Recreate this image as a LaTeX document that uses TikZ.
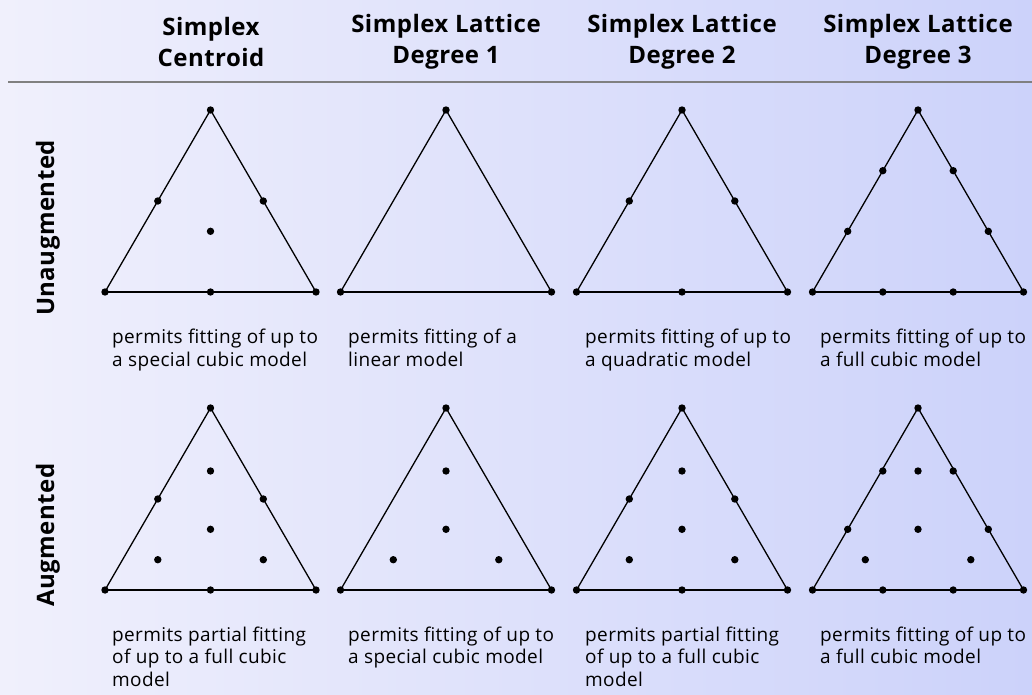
\documentclass[tikz,border=0pt]{standalone}
\usepackage{fontspec}
\setmainfont{Open Sans}
\definecolor{paleLav}{RGB}{240,240,252}
\definecolor{midBlue}{RGB}{220,228,250}
\definecolor{deepLav}{RGB}{204,210,250}
\definecolor{ruleGray}{RGB}{128,128,128}
\tikzset{
  side/.style={black, line width=1.3pt},
  basis/.style={black, line width=2.1pt},
  colhead/.style={font=\bfseries\fontsize{24}{31.5}\selectfont\addfontfeatures{LetterSpace=2}, align=center, inner sep=0pt},
  rowhead/.style={font=\bfseries\fontsize{24}{26}\selectfont\addfontfeatures{LetterSpace=2}, rotate=90, inner sep=0pt},
  caption/.style={font=\fontsize{19}{22.5}\selectfont\addfontfeatures{LetterSpace=2}, align=left, anchor=north west, inner sep=0pt},
}
\begin{document}
\begin{tikzpicture}[x=1pt,y=-1pt]
\useasboundingbox (0,0) rectangle (1032,695);
\shade[left color=paleLav, middle color=midBlue, right color=deepLav] (0,0) rectangle (1032,695);
% column and row titles
\node[colhead] (hcent) at (211,42) {Simplex\\Centroid};
\node[colhead] (hdeg1) at (446,42) {Simplex Lattice\\Degree 1};
\node[colhead] (hdeg2) at (682,42) {Simplex Lattice\\Degree 2};
\node[colhead] (hdeg3) at (918,42) {Simplex Lattice\\Degree 3};
\coordinate (ruleL) at (8,82);
\coordinate (ruleR) at (1032,82);
\draw[ruleGray, line width=1.5pt] (ruleL) -- (ruleR);
\node[rowhead] (hunaug) at (48,228) {Unaugmented};
\node[rowhead] (haug) at (48,535) {Augmented};
% unaugmented triangles
\coordinate (t1) at (210.5,110); \coordinate (l1) at (105,292); \coordinate (r1) at (316,292);
\coordinate (t2) at (446,110); \coordinate (l2) at (340.5,292); \coordinate (r2) at (551.5,292);
\coordinate (t3) at (682,110); \coordinate (l3) at (576.5,292); \coordinate (r3) at (787.5,292);
\coordinate (t4) at (918,110); \coordinate (l4) at (812.5,292); \coordinate (r4) at (1023.5,292);
\draw[side] (l1) -- (t1) -- (r1);
\draw[side] (l2) -- (t2) -- (r2);
\draw[side] (l3) -- (t3) -- (r3);
\draw[side] (l4) -- (t4) -- (r4);
\draw[basis] (l1) -- (r1);
\draw[basis] (l2) -- (r2);
\draw[basis] (l3) -- (r3);
\draw[basis] (l4) -- (r4);
% simplex centroid
\fill (t1) circle (3.7); \fill (l1) circle (3.7); \fill (r1) circle (3.7);
\fill (157.8,201) circle (3.7); \fill (263.3,201) circle (3.7);
\fill (210.5,292) circle (3.7); \fill (210.5,231.3) circle (3.7);
% degree 1
\fill (t2) circle (3.7); \fill (l2) circle (3.7); \fill (r2) circle (3.7);
% degree 2
\fill (t3) circle (3.7); \fill (l3) circle (3.7); \fill (r3) circle (3.7);
\fill (629.3,201) circle (3.7); \fill (734.8,201) circle (3.7);
\fill (682,292) circle (3.7);
% degree 3
\fill (t4) circle (3.7); \fill (l4) circle (3.7); \fill (r4) circle (3.7);
\fill (882.8,170.7) circle (3.7); \fill (847.7,231.3) circle (3.7);
\fill (953.2,170.7) circle (3.7); \fill (988.3,231.3) circle (3.7);
\fill (882.8,292) circle (3.7); \fill (953.2,292) circle (3.7);
% augmented triangles
\coordinate (at1) at (210.5,408); \coordinate (al1) at (105,590); \coordinate (ar1) at (316,590);
\coordinate (at2) at (446,408); \coordinate (al2) at (340.5,590); \coordinate (ar2) at (551.5,590);
\coordinate (at3) at (682,408); \coordinate (al3) at (576.5,590); \coordinate (ar3) at (787.5,590);
\coordinate (at4) at (918,408); \coordinate (al4) at (812.5,590); \coordinate (ar4) at (1023.5,590);
\draw[side] (al1) -- (at1) -- (ar1);
\draw[side] (al2) -- (at2) -- (ar2);
\draw[side] (al3) -- (at3) -- (ar3);
\draw[side] (al4) -- (at4) -- (ar4);
\draw[basis] (al1) -- (ar1);
\draw[basis] (al2) -- (ar2);
\draw[basis] (al3) -- (ar3);
\draw[basis] (al4) -- (ar4);
% augmented centroid
\fill (at1) circle (3.7); \fill (al1) circle (3.7); \fill (ar1) circle (3.7);
\fill (157.8,499) circle (3.7); \fill (263.3,499) circle (3.7); \fill (210.5,590) circle (3.7);
\fill (210.5,529.3) circle (3.7); \fill (210.5,471) circle (3.7);
\fill (157.8,559.7) circle (3.7); \fill (263.3,559.7) circle (3.7);
% augmented degree 1
\fill (at2) circle (3.7); \fill (al2) circle (3.7); \fill (ar2) circle (3.7);
\fill (446,529.3) circle (3.7); \fill (446,471) circle (3.7);
\fill (393.3,559.7) circle (3.7); \fill (498.8,559.7) circle (3.7);
% augmented degree 2
\fill (at3) circle (3.7); \fill (al3) circle (3.7); \fill (ar3) circle (3.7);
\fill (629.3,499) circle (3.7); \fill (734.8,499) circle (3.7); \fill (682,590) circle (3.7);
\fill (682,529.3) circle (3.7); \fill (682,471) circle (3.7);
\fill (629.3,559.7) circle (3.7); \fill (734.8,559.7) circle (3.7);
% augmented degree 3
\fill (at4) circle (3.7); \fill (al4) circle (3.7); \fill (ar4) circle (3.7);
\fill (882.8,471) circle (3.7); \fill (847.7,529.3) circle (3.7);
\fill (953.2,471) circle (3.7); \fill (988.3,529.3) circle (3.7);
\fill (882.8,590) circle (3.7); \fill (953.2,590) circle (3.7);
\fill (918,529.3) circle (3.7); \fill (918,471) circle (3.7);
\fill (865.3,559.7) circle (3.7); \fill (970.8,559.7) circle (3.7);
% captions
\node[caption] (c1) at (112,329) {permits fitting of up to\\a special cubic model};
\node[caption] (c2) at (348,329) {permits fitting of a\\linear model};
\node[caption] (c3) at (585,329) {permits fitting of up to\\a quadratic model};
\node[caption] (c4) at (820,329) {permits fitting of up to\\a full cubic model};
\node[caption] (c5) at (112,626.5) {permits partial fitting\\of up to a full cubic\\model};
\node[caption] (c6) at (348,626.5) {permits fitting of up to\\a special cubic model};
\node[caption] (c7) at (585,626.5) {permits partial fitting\\of up to a full cubic\\model};
\node[caption] (c8) at (820,626.5) {permits fitting of up to\\a full cubic model};
\end{tikzpicture}
\end{document}
